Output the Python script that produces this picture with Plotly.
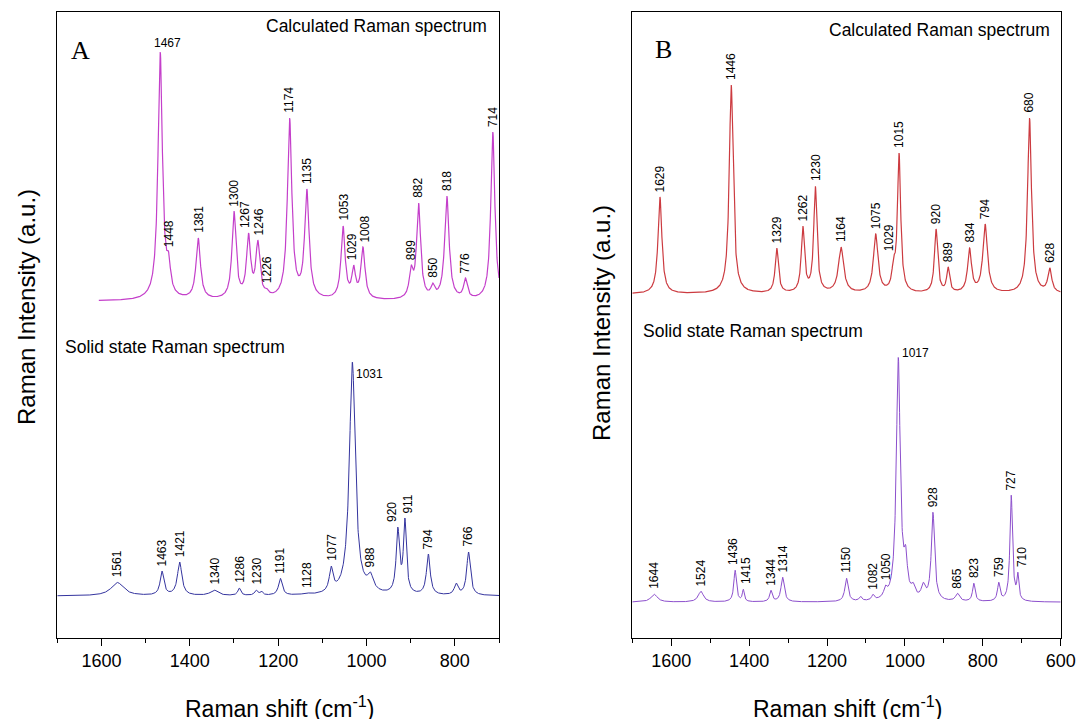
import numpy as np
import plotly.graph_objects as go

# ---- data (peak centres in cm-1, heights in a.u., half widths in cm-1) ----
# A - calculated
calc_a_pos = [1467, 1448, 1381, 1300, 1267, 1246, 1226, 1174, 1135, 1053, 1029, 1008, 899, 882, 850, 818, 776, 714]
calc_a_height = [249, 49, 63, 90, 68, 61, 13, 183, 112, 75, 36, 54, 36, 98, 18, 105, 23, 169]
calc_a_hw = [6, 5, 6, 5.5, 5.5, 5.5, 5, 6, 6, 5.5, 5, 5.5, 5, 5.5, 5, 6, 5, 5.5]
calc_a_labels = ['1467', '1448', '1381', '1300', '1267', '1246', '1226', '1174', '1135', '1053',
                 '1029', '1008', '899', '882', '850', '818', '776', '714']

# A - solid state
solid_a_pos = [1564, 1463, 1423, 1345, 1288, 1250, 1238, 1195, 1136, 1080, 1032, 991, 929, 913, 860, 797, 769]
solid_a_height = [13.5, 25, 34, 6, 8, 6, 5, 17.7, 3.3, 30, 234, 24, 69, 78, 42, 13, 44]
solid_a_hw = [17, 5, 6, 10, 4, 4, 4, 5, 8, 5, 8, 8, 4.5, 4, 5, 5, 5]
solid_a_labels = ['1561', '1463', '1421', '1340', '1286', '1230', '', '1191', '1128', '1077',
                  '1031', '988', '920', '911', '794', '', '766']

# B - calculated
calc_b_pos = [1629, 1446, 1329, 1262, 1230, 1164, 1075, 1029, 1015, 920, 889, 834, 794, 680, 628]
calc_b_height = [97, 209, 46, 68, 108, 47, 60, 38, 141, 65, 27, 46, 70, 176, 26]
calc_b_hw = [6, 6, 5, 5, 5, 8, 7, 5, 5, 5, 4.5, 6, 7, 6, 6]
calc_b_labels = ['1629', '1446', '1329', '1262', '1230', '1164', '1075', '1029', '1015',
                 '920', '889', '834', '794', '680', '628']

# B - solid state
solid_b_pos = [1644, 1524, 1436, 1415, 1344, 1314, 1150, 1114, 1082, 1050, 1017, 998, 979, 953, 928,
               865, 823, 759, 727, 710]
solid_b_height = [8, 11, 32, 13, 12, 25, 24, 6, 8, 17, 245, 57, 20, 20, 90, 9, 19, 20, 107, 30]
solid_b_hw = [10, 8, 4, 3, 4, 5, 5, 4, 4, 5, 6, 5, 6, 6, 5, 6, 4, 4, 4, 3]
solid_b_labels = ['1644', '1524', '1436', '1415', '1344', '1314', '1150', '', '1082', '1050', '1017',
                  '', '', '', '928', '865', '823', '759', '727', '710']

# vertical offsets of each trace (a.u.)
calc_a_base, solid_a_base = 336.7, 41.7
calc_b_base, solid_b_base = 343.7, 35.5


def spectrum(x, pos, height, hw):
    pos = np.array(pos, float)
    hw = np.array(hw, float)
    # lorentzian matrix; solve so the summed curve hits the read heights at the centres
    m = hw[None, :] ** 2 / ((pos[:, None] - pos[None, :]) ** 2 + hw[None, :] ** 2)
    amp = np.clip(np.linalg.solve(m, np.array(height, float)), 0, None)
    return (amp[None, :] * hw[None, :] ** 2 / ((x[:, None] - pos[None, :]) ** 2 + hw[None, :] ** 2)).sum(axis=1)


xa_calc = np.linspace(1606, 700, 1800)
xa_solid = np.linspace(1700, 700, 2000)
xb = np.linspace(1700, 600, 2200)

ya_calc = calc_a_base + spectrum(xa_calc, calc_a_pos, calc_a_height, calc_a_hw)
ya_solid = solid_a_base + spectrum(xa_solid, solid_a_pos, solid_a_height, solid_a_hw)
yb_calc = calc_b_base + spectrum(xb, calc_b_pos, calc_b_height, calc_b_hw)
yb_solid = solid_b_base + spectrum(xb, solid_b_pos, solid_b_height, solid_b_hw)

fig = go.Figure()
fig.add_trace(go.Scatter(x=xa_calc, y=ya_calc, mode='lines', line=dict(color='#c43fca', width=1.2),
                         xaxis='x', yaxis='y'))
fig.add_trace(go.Scatter(x=xa_solid, y=ya_solid, mode='lines', line=dict(color='#34349e', width=1),
                         xaxis='x', yaxis='y'))
fig.add_trace(go.Scatter(x=xb, y=yb_calc, mode='lines', line=dict(color='#cc3b40', width=1.2),
                         xaxis='x2', yaxis='y2'))
fig.add_trace(go.Scatter(x=xb, y=yb_solid, mode='lines', line=dict(color='#8c4fcc', width=1),
                         xaxis='x2', yaxis='y2'))

# special (horizontal) labels
flat = {
    ('x', '1467'): dict(xanchor='center', yanchor='bottom', xshift=7, yshift=0),
    ('x', '1031'): dict(xanchor='left', yanchor='middle', xshift=2, yshift=-12),
    ('x2', '1017'): dict(xanchor='left', yanchor='middle', xshift=2, yshift=5),
}
# small sideways nudges for crowded rotated labels
nudge = {
    ('x', '1267'): -4, ('x', '1246'): 1, ('x', '1029'): -2, ('x', '1008'): 2,
    ('x', '920'): -6, ('x', '911'): 3, ('x2', '1436'): -2, ('x2', '1415'): 2,
    ('x2', '1029'): -5, ('x2', '710'): 4,
}

annotations = []


def add_labels(xref, yref, xs, ys, pos, labels):
    for p, lab in zip(pos, labels):
        if not lab:
            continue
        ytop = float(np.interp(p, xs[::-1], ys[::-1]))
        a = dict(x=p, y=ytop, xref=xref, yref=yref, text=lab, showarrow=False,
                 font=dict(family='Liberation Sans, Arial', size=12, color='black'))
        if (xref, lab) in flat:
            a.update(flat[(xref, lab)])
        else:
            a.update(textangle=-90, xanchor='center', yanchor='bottom', yshift=3,
                     xshift=nudge.get((xref, lab), 0))
        annotations.append(a)


add_labels('x', 'y', xa_calc, ya_calc, calc_a_pos, calc_a_labels)
add_labels('x', 'y', xa_solid, ya_solid, solid_a_pos, solid_a_labels)
add_labels('x2', 'y2', xb, yb_calc, calc_b_pos, calc_b_labels)
add_labels('x2', 'y2', xb, yb_solid, solid_b_pos, solid_b_labels)

txt = dict(family='Liberation Sans, Arial', color='black')
W, H = 1079, 719


def px(x, y):
    return x / W, 1 - y / H


for (x, y), text, size, anchor in [
    ((489, 26), 'Calculated Raman spectrum', 17.5, 'right'),
    ((1052, 30), 'Calculated Raman spectrum', 17.5, 'right'),
    ((63, 347), 'Solid state Raman spectrum', 17.5, 'left'),
    ((641, 331), 'Solid state Raman spectrum', 17.5, 'left'),
]:
    xp, yp = px(x, y)
    annotations.append(dict(x=xp, y=yp, xref='paper', yref='paper', text=text, showarrow=False,
                            xanchor=anchor, yanchor='middle', font=dict(size=size, **txt)))

for (x, y), letter in [((80, 50), 'A'), ((663, 49), 'B')]:
    xp, yp = px(x, y)
    annotations.append(dict(x=xp, y=yp, xref='paper', yref='paper', text=letter, showarrow=False,
                            xanchor='center', yanchor='middle',
                            font=dict(family='Liberation Serif, Times New Roman', size=26, color='black')))

for (x, y) in [(26, 307), (601, 323)]:
    xp, yp = px(x, y)
    annotations.append(dict(x=xp, y=yp, xref='paper', yref='paper', text='Raman Intensity (a.u.)',
                            showarrow=False, textangle=-90, xanchor='center', yanchor='middle',
                            font=dict(size=24, **txt)))

for (x, y) in [(280, 707), (847, 707)]:
    xp, yp = px(x, y)
    annotations.append(dict(x=xp, y=yp, xref='paper', yref='paper', text='Raman shift (cm<sup>-1</sup>)',
                            showarrow=False, xanchor='center', yanchor='middle',
                            font=dict(size=23, **txt)))

xaxis_common = dict(showline=True, linecolor='black', linewidth=1.3, mirror=True, showgrid=False,
                    zeroline=False, ticks='outside', ticklen=7, tickwidth=1.2, tickcolor='black',
                    tick0=0, dtick=200, tickfont=dict(size=18, **txt), automargin=False,
                    minor=dict(ticks='outside', ticklen=4, tickwidth=1.2, tickcolor='black', dtick=100))
yaxis_common = dict(showline=True, linecolor='black', linewidth=1.3, mirror=True, showgrid=False,
                    zeroline=False, showticklabels=False, ticks='', range=[0, 625.7], automargin=False,
                    domain=[1 - 637.7 / H, 1 - 12 / H])

fig.update_layout(
    width=W, height=H, autosize=False, margin=dict(l=0, r=0, t=0, b=0),
    paper_bgcolor='white', plot_bgcolor='white', showlegend=False,
    xaxis=dict(range=[1700, 700], domain=[57.3 / W, 499 / W], anchor='y', **xaxis_common),
    yaxis=dict(anchor='x', **yaxis_common),
    xaxis2=dict(range=[1700, 600], domain=[632.3 / W, 1060.7 / W], anchor='y2', **xaxis_common),
    yaxis2=dict(anchor='x2', **yaxis_common),
    annotations=annotations,
)

# page body has a default margin and scrollbars; drop them so the figure fills the window
page_fix = ("document.documentElement.style.overflow='hidden';"
            "document.body.style.margin='0';document.body.style.overflow='hidden';")
fig.write_html('out.html', post_script=page_fix,
               config={'displayModeBar': False, 'responsive': False})
